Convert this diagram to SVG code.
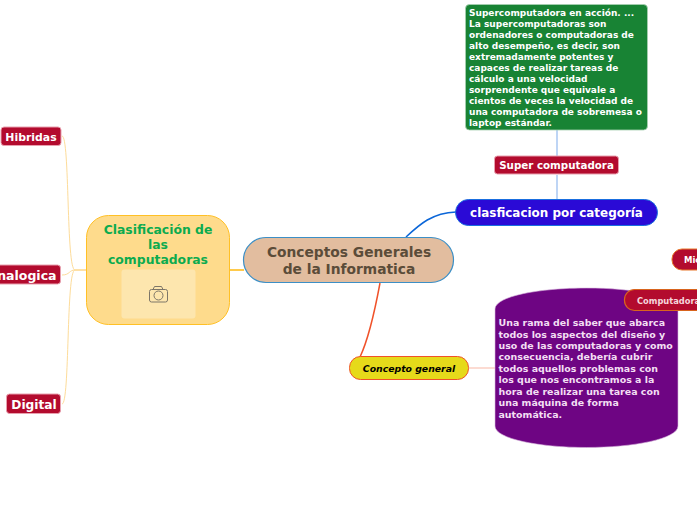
<svg xmlns="http://www.w3.org/2000/svg" width="697" height="520" viewBox="0 0 697 520">
<style>
text{font-family:"DejaVu Sans",sans-serif;font-weight:700;text-anchor:middle}
.red{fill:#b30b2e;stroke:#e8a0ae;stroke-width:1}
.w{fill:#fff}
.c{fill:none}
.body{font-size:9px;text-anchor:start;fill:#fff}
.pbody{font-size:9.45px;text-anchor:start;fill:#f3dff3}
</style>
<rect width="697" height="520" fill="#fff"/>
<g id="connectors" class="c">
<path d="M230 270H244" stroke="#ffb90f" stroke-width="1.5"/>
<path d="M86 270H75C66 270 70 136 62 136" stroke="#fddc9a"/>
<path d="M86 270H75C69 270 70 275 62 275" stroke="#fddc9a"/>
<path d="M86 270H75C66 270 70 404 62 404" stroke="#fddc9a"/>
<path d="M406 237C420 224 432 213 456 212" stroke="#0b66d8" stroke-width="1.5"/>
<path d="M380 283C375 310 369 338 360 357" stroke="#f0522a" stroke-width="1.5"/>
<path d="M469 368H495" stroke="#fbcfc3" stroke-width="1.5"/>
<path d="M557 130V156M557 175V200" stroke="#a9c8f2" stroke-width="1.5"/>
</g>
<g id="center">
<rect x="243.500" y="237.500" width="210" height="45" rx="22.500" fill="#e2bd9f" stroke="#3c8fc6" stroke-width="1.200"/>
<text x="349" y="257" font-size="13.800" fill="#5b4c39">Conceptos Generales</text>
<text x="349" y="274" font-size="13.800" fill="#5b4c39">de la Informatica</text>
</g>
<g id="clasificacion">
<rect x="86.500" y="215.500" width="143" height="109" rx="22" fill="#fedb8c" stroke="#ffc026" stroke-width="1"/>
<text x="158" y="234" font-size="12.400" fill="#0cab4f">Clasificación de</text>
<text x="158" y="249" font-size="12.400" fill="#0cab4f">las</text>
<text x="158" y="264" font-size="12.400" fill="#0cab4f">computadoras</text>
<rect x="121.500" y="269.500" width="74" height="49" rx="3" fill="#fde6ae"/>
<g fill="none" stroke="#7d7668" stroke-width="1">
<rect x="149.500" y="289.500" width="18" height="12.500" rx="2"/>
<circle cx="158.500" cy="295.500" r="4.500"/>
<path d="M153 289.500L154.500 286.500H161.500L163 289.500"/>
</g>
</g>
<g id="hibridas"><rect class="red" x="1" y="127" width="60" height="18.500" rx="3"/><text class="w" x="31" y="141" font-size="10.900">Hibridas</text></g>
<g id="analogica"><rect class="red" x="-20" y="265" width="80.500" height="19" rx="3"/><text class="w" x="22" y="280" font-size="12.500">Analogica</text></g>
<g id="digital"><rect class="red" x="6.500" y="394" width="54" height="19.500" rx="3"/><text class="w" x="34" y="409" font-size="12.200">Digital</text></g>
<g id="categoria">
<rect x="455.500" y="199.500" width="202" height="26" rx="13" fill="#2a0ad6" stroke="#1a6fe0" stroke-width="1"/>
<text class="w" x="556.500" y="217" font-size="11.950">clasficacion por categoría</text>
</g>
<g id="super">
<rect class="red" x="494.500" y="156" width="124" height="18" rx="3"/>
<text class="w" x="556.500" y="169" font-size="10.300">Super computadora</text>
</g>
<g id="supertext">
<rect x="465.500" y="4.500" width="182" height="125.500" rx="4" fill="#188334" stroke="#a8d0b2" stroke-width=".8"/>
<text class="body" x="469" y="16">Supercomputadora en acción. ...</text>
<text class="body" x="469" y="27">La supercomputadoras son</text>
<text class="body" x="469" y="38">ordenadores o computadoras de</text>
<text class="body" x="469" y="49">alto desempeño, es decir, son</text>
<text class="body" x="469" y="60">extremadamente potentes y</text>
<text class="body" x="469" y="71">capaces de realizar tareas de</text>
<text class="body" x="469" y="82">cálculo a una velocidad</text>
<text class="body" x="469" y="93">sorprendente que equivale a</text>
<text class="body" x="469" y="104">cientos de veces la velocidad de</text>
<text class="body" x="469" y="115">una computadora de sobremesa o</text>
<text class="body" x="469" y="126">laptop estándar.</text>
</g>
<g id="concepto">
<rect x="349.500" y="356.500" width="119" height="23" rx="11" fill="#e6da1a" stroke="#f0522a" stroke-width="1"/>
<text x="409" y="372" font-size="9.300" font-style="italic" fill="#000">Concepto general</text>
</g>
<g id="definicion">
<path d="M495 309C495 296 540 288 586.500 288S678 296 678 309V426C678 439 633 447.500 586.500 447.500S495 439 495 426Z" fill="#6e0583" stroke="#d9b8de" stroke-width=".6"/>
<text class="pbody" x="498.500" y="326">Una rama del saber que abarca</text>
<text class="pbody" x="498.500" y="337.500">todos los aspectos del diseño y</text>
<text class="pbody" x="498.500" y="349">uso de las computadoras y como</text>
<text class="pbody" x="498.500" y="360">consecuencia, debería cubrir</text>
<text class="pbody" x="498.500" y="372">todos aquellos problemas con</text>
<text class="pbody" x="498.500" y="383">los que nos encontramos a la</text>
<text class="pbody" x="498.500" y="395">hora de realizar una tarea con</text>
<text class="pbody" x="498.500" y="406">una máquina de forma</text>
<text class="pbody" x="498.500" y="418">automática.</text>
</g>
<g id="micro">
<rect x="672" y="249" width="60" height="21" rx="10" fill="#b30b2e" stroke="#e8772a" stroke-width="1"/>
<text class="w" x="684" y="263" font-size="8.500" style="text-anchor:start">Mic</text>
</g>
<g id="computadora">
<rect x="624.500" y="289.500" width="110" height="21" rx="10" fill="#b30b2e" stroke="#d8641e" stroke-width="1.200"/>
<text x="637" y="304" font-size="8.300" style="text-anchor:start" fill="#f6d5dc">Computadora</text>
</g>
</svg>
